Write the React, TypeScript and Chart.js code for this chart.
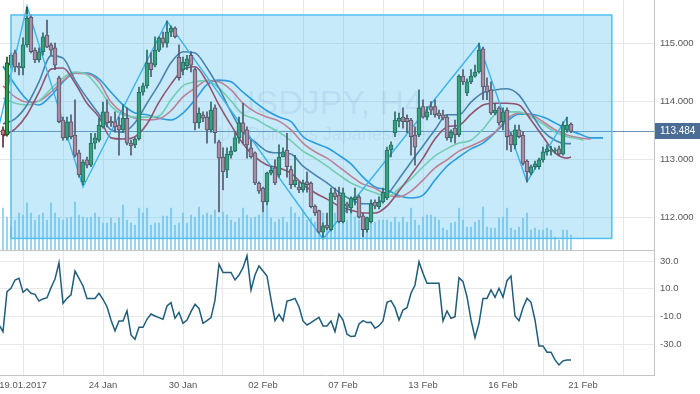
import React, { useEffect, useRef } from "react";
import { Chart, registerables } from "chart.js";

Chart.register(...registerables);

// ---------------- data ----------------
const opens = [
  113.51, 113.42, 114.63, 114.84, 114.61, 114.58, 114.98, 115.46, 114.89, 114.72,
  114.86, 115.15, 114.98, 114.93, 114.41, 113.68, 113.37, 113.65, 113.42, 113.11,
  112.61, 112.99, 112.90, 113.28, 113.33, 113.56, 113.82, 113.66, 113.65, 113.59,
  113.51, 113.71, 113.28, 113.25, 113.35, 114.16, 114.27, 114.67, 114.63, 114.89,
  115.10, 115.01, 115.20, 115.27, 114.77, 114.55, 114.62, 114.80, 114.55, 113.63,
  113.77, 113.73, 113.51, 113.89, 113.30, 113.04, 112.81, 113.07, 113.14, 113.37,
  113.63, 113.51, 113.20, 113.11, 112.59, 112.50, 112.26, 112.76, 112.85, 112.73,
  113.04, 113.16, 112.82, 112.56, 112.52, 112.47, 112.61, 112.59, 112.19, 112.11,
  111.74, 111.86, 111.78, 112.42, 112.38, 111.92, 112.23, 112.16, 112.30, 112.35,
  112.02, 111.78, 111.92, 112.26, 112.18, 112.26, 112.33, 113.16, 113.46, 113.66,
  113.73, 113.71, 113.68, 113.42, 113.42, 113.91, 113.73, 113.91, 113.91, 113.80,
  113.77, 113.73, 113.37, 113.54, 113.42, 114.44, 114.15, 114.34, 114.44, 114.51,
  114.91, 114.27, 114.20, 113.80, 113.89, 113.65, 113.85, 113.42, 113.25, 113.51,
  113.42, 112.97, 112.76, 112.87, 112.87, 112.99, 113.13, 113.14, 113.14, 113.18,
  113.09, 113.51, 113.61,
];
const highs = [
  113.56, 114.77, 114.84, 114.89, 114.67, 115.10, 115.63, 115.50, 114.93, 114.93,
  115.19, 115.41, 115.01, 115.01, 114.44, 113.73, 113.73, 113.77, 114.03, 113.16,
  112.99, 113.04, 113.45, 113.45, 113.71, 113.99, 114.03, 113.74, 113.82, 113.73,
  113.94, 113.89, 113.33, 113.37, 114.25, 114.32, 114.89, 114.84, 115.12, 115.12,
  115.20, 115.39, 115.31, 115.29, 114.98, 114.77, 114.80, 114.86, 114.58, 113.89,
  113.82, 113.82, 113.99, 113.94, 113.33, 113.20, 113.20, 113.22, 113.46, 113.73,
  113.97, 113.56, 113.33, 113.13, 112.61, 112.52, 112.78, 112.88, 112.99, 113.25,
  113.20, 113.45, 112.88, 113.07, 112.61, 112.64, 112.78, 112.61, 112.21, 112.12,
  111.90, 112.07, 112.50, 112.50, 112.52, 112.50, 112.26, 112.35, 112.50, 112.38,
  112.07, 112.00, 112.30, 112.30, 112.35, 112.50, 113.21, 113.30, 113.82, 113.80,
  113.89, 113.77, 113.71, 113.56, 114.20, 114.03, 113.91, 114.00, 114.03, 113.85,
  113.85, 113.77, 113.51, 113.68, 114.46, 114.55, 114.39, 114.55, 114.63, 115.01,
  114.94, 114.41, 114.34, 113.97, 113.91, 113.89, 113.89, 113.46, 113.59, 113.59,
  113.48, 112.99, 112.90, 112.97, 113.02, 113.21, 113.25, 113.23, 113.20, 113.23,
  113.65, 113.73, 113.63,
];
const lows = [
  113.21, 113.40, 114.58, 114.51, 114.46, 114.46, 114.94, 114.84, 114.67, 114.68,
  114.80, 114.93, 114.80, 114.55, 113.63, 113.33, 113.33, 113.35, 113.04, 112.69,
  112.56, 112.85, 112.87, 113.18, 113.30, 113.54, 113.56, 113.57, 113.47, 113.07,
  113.47, 113.25, 113.07, 113.20, 113.33, 114.11, 114.23, 114.43, 114.60, 114.86,
  114.94, 114.94, 115.12, 115.10, 114.37, 114.46, 114.55, 114.51, 113.51, 113.54,
  113.65, 113.28, 113.47, 113.28, 112.09, 112.47, 112.68, 113.02, 113.13, 113.28,
  113.28, 113.02, 113.02, 112.56, 112.41, 112.09, 112.21, 112.73, 112.56, 112.69,
  113.04, 112.69, 112.49, 112.52, 112.42, 112.43, 112.43, 112.16, 112.03, 111.72,
  111.64, 111.78, 111.76, 112.30, 111.90, 111.90, 112.07, 112.07, 112.21, 111.98,
  111.66, 111.74, 111.90, 112.14, 112.14, 112.24, 112.30, 113.04, 113.39, 113.56,
  113.54, 113.46, 113.07, 112.90, 113.39, 113.71, 113.68, 113.77, 113.73, 113.70,
  113.68, 113.33, 113.30, 113.28, 113.39, 114.29, 114.10, 114.31, 114.42, 114.49,
  114.03, 114.03, 113.77, 113.77, 113.59, 113.51, 113.16, 113.13, 113.18, 113.37,
  112.90, 112.61, 112.73, 112.83, 112.83, 112.95, 113.07, 113.07, 113.11, 113.07,
  113.07, 113.47, 113.46,
];
const closes = [
  113.42, 114.67, 114.80, 114.60, 114.58, 114.98, 115.44, 114.86, 114.72, 114.86,
  115.12, 114.94, 114.89, 114.63, 113.65, 113.37, 113.65, 113.39, 113.07, 112.73,
  112.95, 112.90, 113.28, 113.37, 113.59, 113.82, 113.63, 113.63, 113.56, 113.51,
  113.71, 113.28, 113.23, 113.35, 114.16, 114.27, 114.67, 114.55, 114.89, 115.10,
  115.01, 115.20, 115.27, 115.12, 114.41, 114.68, 114.74, 114.63, 113.63, 113.80,
  113.71, 113.51, 113.85, 113.46, 113.02, 112.78, 113.09, 113.14, 113.37, 113.63,
  113.47, 113.25, 113.04, 112.59, 112.45, 112.26, 112.76, 112.81, 112.59, 113.04,
  113.13, 112.87, 112.56, 112.64, 112.47, 112.59, 112.56, 112.18, 112.07, 111.74,
  111.85, 111.81, 112.42, 112.35, 111.92, 112.42, 112.19, 112.33, 112.35, 112.00,
  111.78, 111.99, 112.23, 112.19, 112.26, 112.43, 113.16, 113.25, 113.68, 113.71,
  113.65, 113.65, 113.39, 113.21, 113.89, 113.73, 113.82, 113.85, 113.77, 113.75,
  113.71, 113.37, 113.47, 113.42, 114.44, 114.34, 114.34, 114.44, 114.51, 114.89,
  114.25, 114.16, 113.80, 113.85, 113.63, 113.82, 113.39, 113.25, 113.51, 113.39,
  112.93, 112.78, 112.87, 112.92, 112.99, 113.13, 113.18, 113.16, 113.16, 113.09,
  113.59, 113.59, 113.48,
];
const volumes = [
  4200, 3300, 2300, 3000, 3700, 3500, 4700, 3700, 3000, 3500,
  3700, 3000, 4700, 3700, 3200, 3000, 3200, 3300, 4800, 3500,
  3300, 3200, 3300, 3700, 3300, 2700, 2700, 3200, 2700, 3200,
  4500, 3000, 2700, 2500, 4200, 3700, 4200, 2500, 2700, 2700,
  3400, 3400, 4200, 2500, 2700, 3700, 2700, 3500, 3300, 4300,
  3500, 3700, 3500, 4000, 3300, 3800, 3500, 3000, 2800, 3200,
  4200, 3500, 3200, 3300, 3500, 3700, 4500, 3200, 2800, 3100,
  3300, 2800, 4300, 3700, 3300, 4000, 3000, 3200, 2800, 2300,
  3700, 3500, 4200, 3700, 3000, 2800, 3000, 3700, 3300, 3000,
  2700, 2500, 3300, 2800, 3000, 3000, 3000, 2800, 3300, 2800,
  3300, 2800, 4200, 3000, 2500, 3300, 3500, 3500, 3300, 3000,
  2200, 2000, 2700, 2800, 4200, 3000, 2300, 2300, 2800, 3000,
  4300, 2300, 2200, 2200, 3200, 3300, 4200, 2200, 2000, 2300,
  3200, 3700, 2000, 2200, 2000, 2000, 2200, 2000, 1300, 1000,
  2000, 2000, 1500,
];

// oscillator, first value belongs to bar -1
const oscStart = -1;
const oscValues = [
  -16.0,
  -21.0, 7.9, 10.3, 16.3, 17.5, 7.4, 9.8, 6.7, 5.9, 1.1,
  2.6, 3.5, 10.7, 17.0, 28.8, -0.6, 3.0, 5.5, 22.8, 17.5,
  12.0, 3.0, 3.0, 3.0, 6.7, 2.3, -3.0, -12.6, -20.5, -13.3,
  -13.3, -5.9, -23.4, -26.6, -17.9, -17.9, -12.1, -8.3, -9.7, -10.9,
  -12.1, -2.5, -0.1, -11.4, -7.1, -15.0, -12.6, -6.6, -1.3, -4.2,
  -15.0, -13.1, -10.9, 1.8, 27.8, 21.8, 21.8, 21.8, 16.3, 19.9,
  25.2, 33.9, 9.1, 19.9, 26.4, 22.8, 19.2, 2.3, -13.1, -8.5,
  -13.1, 1.1, 1.8, 3.0, -3.0, -13.3, -16.2, -14.5, -12.6, -10.7,
  -16.9, -16.9, -13.3, -21.0, -8.3, -12.6, -22.9, -24.6,
  -24.2, -15.5, -13.1, -14.5, -14.3, -18.6, -16.7, -13.3, 0.2, 1.4,
  -3.7, -12.6, -5.4, -3.7, 6.7, 12.7, 29.5, 21.1, 13.9, 13.9,
  13.9, 13.9, -13.3, -6.1, -11.4, -10.2, 18.0, 15.1, 4.2, -12.6,
  -25.4, -15.0, 3.0, 3.0, 9.1, 3.8, 10.3, 3.8, 15.8, 19.2,
  -9.7, -13.1, -3.7, 3.0, 0.2, -12.6, -31.4, -31.4, -35.9, -35.9,
  -41.5, -45.1, -42.2, -41.5, -41.5,
];

// moving-average lines, sampled every 3rd bar (extra last sample where noted)
const maSteelBlue = [
  113.61, 113.70, 113.94, 114.34, 114.79, 114.75, 114.37, 114.06, 113.78, 113.51,
  113.47, 113.63, 113.97, 114.30, 114.67, 114.86, 114.84, 114.58, 114.23, 113.82,
  113.47, 113.30, 113.14, 113.11, 113.09, 112.88, 112.73, 112.59, 112.43, 112.30,
  112.23, 112.23, 112.38, 112.66, 112.95, 113.23, 113.51, 113.77, 113.77, 113.99,
  114.15, 114.20, 114.22, 114.11, 113.80, 113.49, 113.33, 113.27, 113.27,
];
const maDarkRed = [
  113.40, 113.52, 113.77, 114.16, 114.56, 114.58, 114.32, 113.97, 113.73, 113.37,
  113.35, 113.39, 113.61, 113.99, 114.30, 114.55, 114.60, 114.34, 113.94, 113.59,
  113.27, 113.04, 112.90, 112.85, 112.76, 112.56, 112.42, 112.31, 112.19, 112.12,
  112.07, 112.07, 112.19, 112.45, 112.73, 113.02, 113.35, 113.56, 113.59, 113.78,
  113.94, 113.97, 113.97, 113.94, 113.68, 113.39, 113.11, 113.02, 113.04,
];
const jawBlue = [
  114.61, 114.29, 114.03, 113.94, 114.10, 114.34, 114.49, 114.49, 114.39, 114.16,
  113.94, 113.80, 113.77, 113.71, 113.68, 113.80, 114.03, 114.29, 114.37, 114.34,
  114.16, 113.99, 113.84, 113.73, 113.65, 113.39, 113.28, 113.20, 113.07, 112.92,
  112.69, 112.52, 112.47, 112.37, 112.33, 112.38, 112.64, 112.88, 113.04, 113.18,
  113.28, 113.46, 113.66, 113.78, 113.78, 113.73, 113.63, 113.52, 113.44, 113.37,
  113.37,
];
const teethPink = [
  114.27, 114.08, 113.99, 114.01, 114.16, 114.36, 114.49, 114.48, 114.34, 113.99,
  113.80, 113.71, 113.68, 113.70, 113.84, 114.08, 114.23, 114.36, 114.34, 114.20,
  113.97, 113.82, 113.73, 113.66, 113.51, 113.28, 113.13, 113.02, 112.87, 112.71,
  112.57, 112.50, 112.38, 112.35, 112.45, 112.64, 112.85, 112.99, 113.14, 113.23,
  113.33, 113.47, 113.70, 113.80, 113.77, 113.65, 113.51, 113.42, 113.37, 113.35,
];
const lipsGreen = [
  114.06, 113.97, 113.94, 114.01, 114.22, 114.41, 114.51, 114.46, 114.23, 113.92,
  113.77, 113.73, 113.73, 113.75, 114.03, 114.27, 114.34, 114.36, 114.23, 114.01,
  113.78, 113.70, 113.58, 113.47, 113.32, 113.14, 113.02, 112.88, 112.73, 112.59,
  112.50, 112.42, 112.35, 112.49, 112.66, 112.87, 113.06, 113.18, 113.28, 113.33,
  113.52, 113.77, 113.82, 113.82, 113.73, 113.61, 113.47, 113.39, 113.35, 113.33,
];

const zigzagIdx = [-2, 6, 20, 41, 80, 119, 131, 141];
const zigzagPrice = [113.28, 115.65, 112.52, 115.39, 111.62, 114.995, 112.61, 113.73];

const rectIdx = [2.0, 152.2];
const rectPrice = [115.497, 111.63];

const currentPrice = 113.484;
const priceTicks = [112, 113, 114, 115];
const oscTicks = [30, 10, -10, -30];
const gridIdx = [5, 15, 25, 35, 45, 55, 65, 75, 85, 95, 105, 115, 125, 135, 145, 155];
const labelIdx = [5, 25, 45, 65, 85, 105, 125, 145];
const dateLabels = ["19.01.2017", "24 Jan", "30 Jan", "02 Feb", "07 Feb", "13 Feb", "16 Feb", "21 Feb"];
const symbolTitle = "USDJPY, H4";
const symbolName = "US Dollar vs Japanese Yen";

// ---------------- layout / style ----------------
const X_MIN = -0.75;
const X_MAX = 162.75;
const Y_MIN = 111.43;
const Y_MAX = 115.756;
const OSC_MIN = -52.4;
const OSC_MAX = 38;
const AXIS_W = 46;
const FONT = '"Liberation Sans", Arial, sans-serif';
const TICK_FONT = { family: FONT, size: 9.5 };
const TICK_COLOR = "#555555";
const GRID = "#e8e8e8";
const AXIS_LINE = "#c4c4c4";

const UP_FILL = "#2f9a4c";
const UP_LINE = "#1a4d28";
const DN_FILL = "#d8787e";
const DN_LINE = "#5c2f36";

function sampled(values: number[], extraLast?: number) {
  return values.map((v, k) => ({
    x: extraLast !== undefined && k === values.length - 1 ? extraLast : k * 3,
    y: v,
  }));
}

function fixWidth(w: number) {
  return (s: any) => {
    s.width = w;
    s.paddingTop = 0;
    s.paddingBottom = 0;
  };
}

function fixHeight(h: number) {
  return (s: any) => {
    s.height = h;
    s.paddingLeft = 0;
    s.paddingRight = 0;
  };
}

const setGridTicks = (s: any) => {
  s.ticks = gridIdx.map((v) => ({ value: v }));
};

const mainDecor = {
  id: "mainDecor",
  beforeDatasetsDraw(chart: any) {
    const { ctx, chartArea: a, scales } = chart;
    ctx.save();
    ctx.beginPath();
    ctx.rect(a.left, a.top, a.right - a.left, a.bottom - a.top);
    ctx.clip();
    const cx = (a.left + a.right) / 2;
    const h = a.bottom - a.top;
    ctx.fillStyle = "rgba(60,100,140,0.10)";
    ctx.textAlign = "center";
    ctx.textBaseline = "middle";
    ctx.font = `34px ${FONT}`;
    ctx.fillText(symbolTitle, cx, a.top + h * 0.418);
    ctx.font = `18px ${FONT}`;
    ctx.fillText(symbolName, cx, a.top + h * 0.54);
    const py = Math.round(scales.y.getPixelForValue(currentPrice)) + 0.5;
    ctx.strokeStyle = "#6b8fb5";
    ctx.lineWidth = 1;
    ctx.beginPath();
    ctx.moveTo(a.left, py);
    ctx.lineTo(a.right, py);
    ctx.stroke();
    ctx.restore();
  },
  afterDatasetsDraw(chart: any) {
    const { ctx, chartArea: a, scales } = chart;
    const x1 = scales.x.getPixelForValue(rectIdx[0]);
    const x2 = scales.x.getPixelForValue(rectIdx[1]);
    const y1 = scales.y.getPixelForValue(rectPrice[0]);
    const y2 = scales.y.getPixelForValue(rectPrice[1]);
    ctx.save();
    ctx.beginPath();
    ctx.rect(a.left, a.top, a.right - a.left, a.bottom - a.top);
    ctx.clip();
    ctx.fillStyle = "rgba(70,185,240,0.30)";
    ctx.fillRect(x1, y1, x2 - x1, y2 - y1);
    ctx.strokeStyle = "#55bfee";
    ctx.lineWidth = 1.5;
    ctx.strokeRect(x1, y1, x2 - x1, y2 - y1);
    ctx.restore();
  },
  afterDraw(chart: any) {
    const { ctx, chartArea: a, scales } = chart;
    const py = scales.y.getPixelForValue(currentPrice);
    ctx.save();
    ctx.fillStyle = "#4b6d95";
    ctx.fillRect(a.right + 1, Math.round(py) - 8, AXIS_W - 1, 16);
    ctx.fillStyle = "#ffffff";
    ctx.font = `10px ${FONT}`;
    ctx.textAlign = "left";
    ctx.textBaseline = "middle";
    ctx.fillText(currentPrice.toFixed(3), a.right + 6, Math.round(py) + 0.5);
    ctx.restore();
  },
};

const lowerDecor = {
  id: "lowerDecor",
  afterDraw(chart: any) {
    const { ctx, chartArea: a } = chart;
    ctx.save();
    ctx.strokeStyle = AXIS_LINE;
    ctx.lineWidth = 1;
    ctx.beginPath();
    ctx.moveTo(a.left, a.top + 0.5);
    ctx.lineTo(a.right, a.top + 0.5);
    ctx.stroke();
    ctx.restore();
  },
};

function buildMain(canvas: HTMLCanvasElement) {
  const isUp = opens.map((o, i) => closes[i] >= o);
  const bodies = opens.map((o, i) => ({ x: i, y: [o, closes[i]] }));
  const wicks = opens.map((_, i) => ({ x: i, y: [lows[i], highs[i]] }));
  const vols = volumes.map((v, i) => ({ x: i, y: v }));
  const zigzag = zigzagIdx.map((x, k) => ({ x, y: zigzagPrice[k] }));
  const maLine = (data: any[], color: string, order: number) => ({
    type: "line",
    data,
    borderColor: color,
    borderWidth: 1.6,
    pointRadius: 0,
    cubicInterpolationMode: "monotone",
    fill: false,
    order,
  });
  return new Chart(canvas, {
    type: "line",
    data: {
      datasets: [
        {
          type: "bar",
          data: bodies,
          backgroundColor: isUp.map((u) => (u ? UP_FILL : DN_FILL)),
          borderColor: isUp.map((u) => (u ? UP_LINE : DN_LINE)),
          borderWidth: 1,
          borderSkipped: false,
          barThickness: 4,
          minBarLength: 1,
          grouped: false,
          order: 0,
        } as any,
        {
          type: "bar",
          data: wicks,
          backgroundColor: isUp.map((u) => (u ? UP_LINE : DN_LINE)),
          borderWidth: 0,
          barThickness: 1,
          grouped: false,
          order: 1,
        } as any,
        {
          type: "line",
          data: zigzag,
          borderColor: "#38b2ec",
          borderWidth: 1.4,
          pointRadius: 0,
          tension: 0,
          order: 2,
        } as any,
        maLine(sampled(maSteelBlue, 142), "#4a6c94", 3),
        maLine(sampled(maDarkRed, 142), "#b0283a", 4),
        maLine(sampled(lipsGreen, 145), "#88d49a", 5),
        maLine(sampled(teethPink), "#ee6a70", 6),
        maLine(sampled(jawBlue), "#1f8ed8", 7),
        {
          type: "bar",
          data: vols,
          yAxisID: "yVol",
          backgroundColor: "#86ccf0",
          borderWidth: 0,
          barThickness: 1,
          grouped: false,
          order: 9,
        } as any,
      ],
    },
    options: {
      responsive: false,
      animation: false,
      devicePixelRatio: 1,
      events: [],
      layout: { padding: 0 },
      plugins: { legend: { display: false }, tooltip: { enabled: false } },
      scales: {
        x: {
          type: "linear",
          min: X_MIN,
          max: X_MAX,
          offset: false,
          position: "bottom",
          afterBuildTicks: setGridTicks,
          afterFit: fixHeight(0),
          ticks: { display: false },
          grid: { color: GRID, drawTicks: false, offset: false },
          border: { display: false },
        },
        y: {
          type: "linear",
          position: "right",
          min: Y_MIN,
          max: Y_MAX,
          afterBuildTicks: (s: any) => {
            s.ticks = priceTicks.map((v) => ({ value: v }));
          },
          afterFit: fixWidth(AXIS_W),
          ticks: {
            font: TICK_FONT,
            color: TICK_COLOR,
            padding: 6,
            callback: (v: any) => Number(v).toFixed(3),
          },
          grid: { color: GRID, drawTicks: false },
          border: { display: true, color: AXIS_LINE },
        },
        yVol: {
          type: "linear",
          display: false,
          min: 0,
          max: 25000,
        },
      },
    } as any,
    plugins: [mainDecor],
  });
}

function buildLower(canvas: HTMLCanvasElement) {
  const osc = oscValues.map((v, k) => ({ x: k + oscStart, y: v }));
  return new Chart(canvas, {
    type: "line",
    data: {
      datasets: [
        {
          data: osc,
          borderColor: "#1f5d7a",
          borderWidth: 1.5,
          pointRadius: 0,
          tension: 0,
          fill: false,
        },
      ],
    },
    options: {
      responsive: false,
      animation: false,
      devicePixelRatio: 1,
      events: [],
      layout: { padding: 0 },
      plugins: { legend: { display: false }, tooltip: { enabled: false } },
      scales: {
        x: {
          type: "linear",
          min: X_MIN,
          max: X_MAX,
          offset: false,
          afterBuildTicks: setGridTicks,
          afterFit: fixHeight(19),
          ticks: {
            font: TICK_FONT,
            color: TICK_COLOR,
            padding: 5,
            autoSkip: false,
            maxRotation: 0,
            minRotation: 0,
            callback: (v: any) => {
              const k = labelIdx.indexOf(Number(v));
              return k >= 0 ? dateLabels[k] : "";
            },
          },
          grid: { color: GRID, drawTicks: false },
          border: { display: true, color: AXIS_LINE },
        },
        y: {
          type: "linear",
          position: "right",
          min: OSC_MIN,
          max: OSC_MAX,
          afterBuildTicks: (s: any) => {
            s.ticks = oscTicks.map((v) => ({ value: v }));
          },
          afterFit: fixWidth(AXIS_W),
          ticks: {
            font: TICK_FONT,
            color: TICK_COLOR,
            padding: 6,
            callback: (v: any) => Number(v).toFixed(1),
          },
          grid: { color: GRID, drawTicks: false },
          border: { display: true, color: AXIS_LINE },
        },
      },
    } as any,
    plugins: [lowerDecor],
  });
}

export default function App() {
  const mainRef = useRef<HTMLCanvasElement | null>(null);
  const lowerRef = useRef<HTMLCanvasElement | null>(null);

  useEffect(() => {
    if (!mainRef.current || !lowerRef.current) return;
    const c1 = buildMain(mainRef.current);
    const c2 = buildLower(lowerRef.current);
    return () => {
      c1.destroy();
      c2.destroy();
    };
  }, []);

  return (
    <div
      style={{
        position: "absolute",
        left: 0,
        top: 0,
        width: 700,
        height: 394,
        background: "#ffffff",
        overflow: "hidden",
      }}
    >
      <canvas
        ref={mainRef}
        width={700}
        height={250}
        style={{ position: "absolute", left: 0, top: 0, width: 700, height: 250 }}
      />
      <canvas
        ref={lowerRef}
        width={700}
        height={144}
        style={{ position: "absolute", left: 0, top: 250, width: 700, height: 144 }}
      />
    </div>
  );
}
